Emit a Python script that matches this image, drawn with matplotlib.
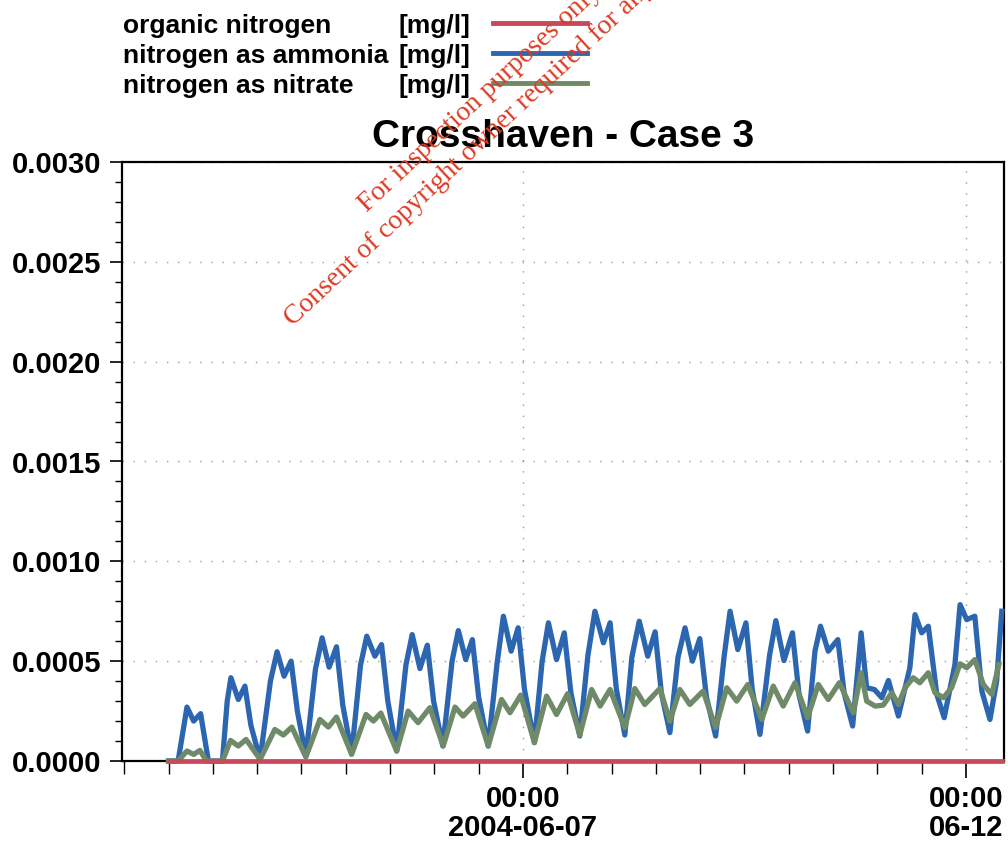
import datetime
import matplotlib
matplotlib.use("Agg")
import matplotlib.pyplot as plt
import matplotlib.dates as mdates
from matplotlib.lines import Line2D
from matplotlib.ticker import MultipleLocator, FormatStrFormatter

plt.rcParams["font.family"] = ["Liberation Sans", "DejaVu Sans"]
plt.rcParams["font.weight"] = "bold"

start = datetime.datetime(2004, 6, 3, 0, 0)

# hours after 2004-06-03 00:00 and concentration in mg/l
ammonia_hours = [0, 2.6, 5.0, 6.8, 8.7, 10.8,
                 14.6, 15.9, 16.9, 18.9, 20.7, 22.3,
                 24.8, 27.6, 29.4, 31.3, 33.2, 34.9,
                 37.2, 39.8, 41.6, 43.5, 45.5, 47.2,
                 49.6, 52.0, 53.7, 55.9, 57.7, 59.4,
                 61.8, 64.3, 66.0, 68.1, 70.1, 71.8,
                 74.3, 76.8, 78.5, 80.5, 82.3, 84.0,
                 86.6, 89.0, 90.7, 92.8, 94.7, 96.4,
                 99.1, 101.2, 102.9, 105.1, 107.2, 109.0,
                 111.4, 113.6, 115.5, 117.8, 119.6, 121.3,
                 123.6, 125.5, 127.5, 129.8, 131.8, 133.5,
                 135.8, 138.0, 139.9, 141.9, 143.9, 145.7,
                 148.2, 150.5, 152.1, 154.2, 156.4, 158.1,
                 160.2, 162.8, 164.5, 166.7, 169.0, 170.8,
                 173.1, 175.1, 176.6, 178.7, 181.3, 183.0,
                 185.3, 187.6, 189.1, 191.2, 193.2, 195.0,
                 197.7, 200.8, 202.2, 204.0, 205.8, 208.1,
                 210.1, 213.0, 214.4, 216.2, 218.4, 220.3,
                 222.5, 224.3, 225.7]
ammonia = [0, 0, 2.70e-4, 2.00e-4, 2.37e-4, 0,
           0, 3.00e-4, 4.17e-4, 3.08e-4, 3.75e-4, 1.80e-4,
           0.08e-4, 4.00e-4, 5.47e-4, 4.25e-4, 5.00e-4, 2.50e-4,
           0.25e-4, 4.60e-4, 6.17e-4, 4.70e-4, 5.72e-4, 2.80e-4,
           0.37e-4, 4.80e-4, 6.25e-4, 5.25e-4, 5.83e-4, 3.00e-4,
           0.50e-4, 4.80e-4, 6.33e-4, 4.63e-4, 5.80e-4, 3.00e-4,
           0.75e-4, 5.00e-4, 6.53e-4, 5.08e-4, 6.08e-4, 3.20e-4,
           0.75e-4, 4.90e-4, 7.25e-4, 5.50e-4, 6.67e-4, 3.60e-4,
           0.92e-4, 5.00e-4, 6.92e-4, 5.08e-4, 6.42e-4, 3.40e-4,
           1.25e-4, 5.30e-4, 7.50e-4, 5.92e-4, 6.92e-4, 3.60e-4,
           1.30e-4, 5.20e-4, 7.00e-4, 5.25e-4, 6.47e-4, 3.40e-4,
           1.42e-4, 5.20e-4, 6.67e-4, 5.00e-4, 6.13e-4, 3.20e-4,
           1.25e-4, 5.25e-4, 7.50e-4, 5.58e-4, 6.92e-4, 3.60e-4,
           1.33e-4, 5.30e-4, 7.03e-4, 5.03e-4, 6.42e-4, 3.30e-4,
           1.50e-4, 5.50e-4, 6.75e-4, 5.50e-4, 6.08e-4, 3.40e-4,
           1.75e-4, 6.42e-4, 3.67e-4, 3.58e-4, 3.17e-4, 4.03e-4,
           2.25e-4, 4.67e-4, 7.33e-4, 6.42e-4, 6.75e-4, 3.33e-4,
           2.17e-4, 4.83e-4, 7.83e-4, 7.08e-4, 7.25e-4, 3.50e-4,
           2.08e-4, 4.00e-4, 7.50e-4]

nitrate_hours = [0, 2.6, 5.0, 6.8, 8.5, 10.3, 14.6, 16.8, 18.9, 21.0, 24.8,
                 28.8, 31.1, 33.4, 37.2, 41.0, 43.3, 45.5, 49.6, 53.5, 55.5, 57.5, 61.8,
                 64.9, 67.6, 70.8, 74.4, 77.6, 79.8, 83.0, 86.6, 90.2, 92.5, 95.4, 99.1,
                 102.4, 105.1, 108.1, 111.4, 114.6, 116.9, 119.6, 123.6, 126.3, 129.0, 133.1, 135.8,
                 138.5, 141.2, 144.8, 148.2, 151.2, 153.9, 156.9, 160.7, 163.8, 166.5, 169.7, 173.1,
                 176.0, 178.7, 181.7, 185.5, 187.6, 189.1, 191.4, 193.6, 195.9, 197.7,
                 199.5, 201.7, 203.5, 205.8, 207.6, 209.9, 212.1,
                 214.4, 216.2, 218.4, 220.7, 223.0, 224.9]
nitrate = [0, 0, 0.50e-4, 0.33e-4, 0.53e-4, 0, 0, 1.03e-4, 0.75e-4, 1.08e-4, 0.08e-4,
           1.58e-4, 1.30e-4, 1.70e-4, 0.20e-4, 2.08e-4, 1.70e-4, 2.20e-4, 0.33e-4,
           2.33e-4, 2.00e-4, 2.40e-4, 0.50e-4, 2.50e-4, 1.92e-4, 2.67e-4, 0.75e-4,
           2.70e-4, 2.25e-4, 2.87e-4, 0.75e-4, 3.08e-4, 2.42e-4, 3.30e-4, 0.92e-4,
           3.25e-4, 2.33e-4, 3.37e-4, 1.30e-4, 3.58e-4, 2.75e-4, 3.58e-4, 1.67e-4,
           3.63e-4, 2.83e-4, 3.63e-4, 2.00e-4, 3.58e-4, 2.83e-4, 3.50e-4, 1.67e-4,
           3.67e-4, 3.00e-4, 3.83e-4, 2.08e-4, 3.75e-4, 2.75e-4, 3.92e-4, 2.17e-4,
           3.83e-4, 3.08e-4, 3.92e-4, 2.42e-4, 4.42e-4, 3.00e-4, 2.75e-4, 2.80e-4,
           3.42e-4, 2.83e-4, 3.67e-4, 4.17e-4, 3.92e-4, 4.42e-4, 3.42e-4, 3.17e-4,
           3.67e-4, 4.87e-4, 4.67e-4, 5.08e-4, 3.83e-4, 3.33e-4, 4.83e-4]

organic_hours = [0, 225.7]
organic = [0, 0]

series_names = ["organic nitrogen", "nitrogen as ammonia", "nitrogen as nitrate"]
unit = "[mg/l]"
x_tick_days = [datetime.datetime(2004, 6, 7), datetime.datetime(2004, 6, 12)]
x_tick_labels = ["00:00\n2004-06-07", "00:00\n06-12"]

red = "#c8485c"
blue = "#2c66b0"
green = "#6f8a68"


def to_dates(hours):
    return [start + datetime.timedelta(hours=h) for h in hours]


fig = plt.figure(figsize=(10.08, 8.47), dpi=100)
ax = fig.add_axes([122 / 1008, 1 - 761 / 847, (1004 - 122) / 1008, (761 - 162) / 847])

ax.plot(to_dates(ammonia_hours), ammonia, color=blue, lw=3.8, clip_on=False, zorder=3,
        solid_joinstyle="round")
ax.plot(to_dates(nitrate_hours), nitrate, color=green, lw=3.8, clip_on=False, zorder=4,
        solid_joinstyle="round")
ax.plot(to_dates(organic_hours), organic, color=red, lw=3.4, clip_on=False, zorder=5)

ax.set_xlim(start - datetime.timedelta(hours=12.6), start + datetime.timedelta(hours=226.3))
ax.set_ylim(0, 0.003)

ax.yaxis.set_major_locator(MultipleLocator(0.0005))
ax.yaxis.set_minor_locator(MultipleLocator(0.0001))
ax.yaxis.set_major_formatter(FormatStrFormatter("%.4f"))
ax.set_xticks(x_tick_days)
ax.set_xticklabels(x_tick_labels, linespacing=1.05)
ax.xaxis.set_minor_locator(mdates.HourLocator(byhour=[0, 12]))

ax.tick_params(axis="y", which="major", length=9, width=1.2, pad=6, labelsize=21)
ax.tick_params(axis="y", which="minor", length=5, width=1)
ax.tick_params(axis="x", which="major", length=12, width=1.2, pad=5, labelsize=21)
ax.tick_params(axis="x", which="minor", length=9, width=1)

ax.grid(True, which="major", color="#555555", lw=1, linestyle=(0, (1, 7)), alpha=0.6)
for s in ax.spines.values():
    s.set_linewidth(1.6)
    s.set_color("black")

ax.set_title("Crosshaven - Case 3", fontsize=28, fontweight="bold", pad=11)

# legend block at the top left
colors = [red, blue, green]
for i in range(3):
    y_line = 1 - (23 + 30 * i) / 847
    y_text = 1 - (26 + 30 * i) / 847
    fig.text(123 / 1008, y_text, series_names[i], fontsize=19, fontweight="bold", va="center")
    fig.text(399 / 1008, y_text, unit, fontsize=19, fontweight="bold", va="center")
    fig.add_artist(Line2D([493 / 1008, 587 / 1008], [y_line, y_line], color=colors[i], lw=3.5,
                          transform=fig.transFigure))

# watermark
wm = "#dd3a22"
fig.text(367 / 1008, 1 - 213 / 847, "For inspection purposes only.", rotation=43, rotation_mode="anchor",
         ha="left", va="baseline", color=wm, family="Liberation Serif", fontweight="normal", fontsize=20)
fig.text(293 / 1008, 1 - 327 / 847, "Consent of copyright owner required for any other use.", rotation=43,
         rotation_mode="anchor", ha="left", va="baseline", color=wm, family="Liberation Serif",
         fontweight="normal", fontsize=20)

fig.savefig("out.png", dpi=100)
